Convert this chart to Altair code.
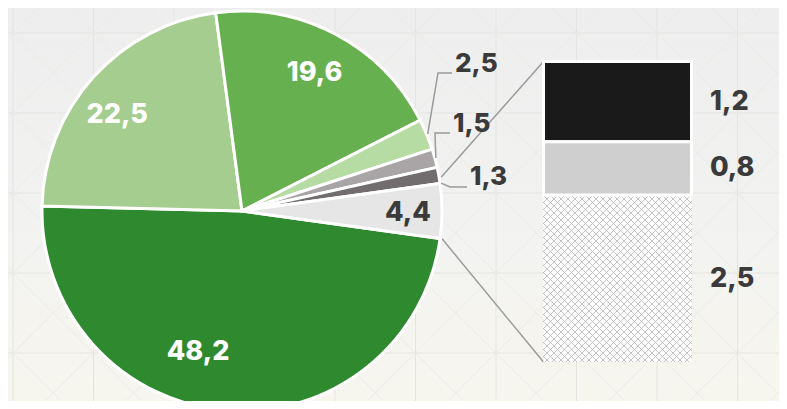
import math
import altair as alt
import pandas as pd

# ---------------- data ----------------
pie_labels = ["48,2", "22,5", "19,6", "2,5", "1,5", "1,3", "4,4"]
pie_values = [48.2, 22.5, 19.6, 2.5, 1.5, 1.3, 4.4]
pie_colors = ["#2f8a2f", "#a5cd8f", "#67b04f", "#b6dca3", "#a9a5a6", "#716c6d", "#e6e6e6"]

bar_labels = ["1,2", "0,8", "2,5"]
bar_values = [1.2, 0.8, 2.5]
bar_colors = ["#1a1a1a", "#d0cfcf", "#ffffff"]

# ---------------- layout ----------------
W, H = 771, 393
CX, CY, R = 234, 203, 200
FONT = "Inter"
WEIGHT = 800
DARK = "#3a3a3a"
LINE = "#9b9b9b"

total = sum(pie_values)
# the broken-out slice (last) is centred at 3 o'clock
start = math.pi / 2 + math.pi * pie_values[-1] / total
theta_scale = alt.Scale(domain=[0, total], range=[start, start + 2 * math.pi])

pie_df = pd.DataFrame({"label": pie_labels, "value": pie_values,
                       "color": pie_colors, "order": list(range(len(pie_values)))})

pie_base = alt.Chart(pie_df).transform_stack(
    stack="value", groupby=[], as_=["v0", "v1"],
    sort=[alt.SortField("order", order="ascending")])

arcs = pie_base.mark_arc(radius=R, stroke="white", strokeWidth=3).encode(
    theta=alt.Theta("v0:Q", scale=theta_scale),
    theta2=alt.Theta2("v1"),
    fill=alt.Fill("color:N", scale=None),
    x=alt.value(CX), y=alt.value(CY))

inner_layout = {
    "48,2": dict(radius=146, dx=-32, dy=-5, color="white"),
    "22,5": dict(radius=157, dx=-8, dy=9, color="white"),
    "19,6": dict(radius=156, dx=0, dy=0, color="white"),
    "4,4": dict(radius=167, dx=-1, dy=2, color=DARK),
}
inner_texts = []
for lab, st in inner_layout.items():
    inner_texts.append(
        pie_base.transform_calculate(mid="(datum.v0 + datum.v1) / 2")
        .transform_filter(alt.datum.label == lab)
        .mark_text(radius=st["radius"], dx=st["dx"], dy=st["dy"], color=st["color"],
                   font=FONT, fontSize=27, fontWeight=WEIGHT, align="center", baseline="middle")
        .encode(theta=alt.Theta("mid:Q", scale=theta_scale), text="label:N",
                x=alt.value(CX), y=alt.value(CY)))

# mid angles of slices (for leader lines)
mids, edges = {}, {}
cum = 0.0
for lab, v in zip(pie_labels, pie_values):
    mids[lab] = start + 2 * math.pi * (cum + v / 2) / total
    edges[lab] = (start + 2 * math.pi * cum / total, start + 2 * math.pi * (cum + v) / total)
    cum += v

def polar(a, r):
    return CX + r * math.sin(a), CY - r * math.cos(a)

# external labels: elbow point, line end, text anchor
ext_layout = {
    "2,5": dict(elbow=(430, 65), end=(444, 65), text=(447, 64)),
    "1,5": dict(elbow=(427, 125), end=(442, 125), text=(445, 124)),
    "1,3": dict(elbow=(442, 179), end=(459, 179), text=(462, 177)),
}
lead_rows, ext_rows = [], []
for lab, st in ext_layout.items():
    sx, sy = polar(mids[lab] + (0.04 if lab == "1,3" else 0.0), R + 1)
    pts = [(sx, sy), st["elbow"], st["end"]]
    for i, (px, py) in enumerate(pts):
        lead_rows.append({"label": lab, "seq": i, "x": px, "y": py})
    ext_rows.append({"label": lab, "x": st["text"][0], "y": st["text"][1]})

leaders = alt.Chart(pd.DataFrame(lead_rows)).mark_line(color=LINE, strokeWidth=1.5).encode(
    x=alt.X("x:Q", scale=None), y=alt.Y("y:Q", scale=None),
    detail="label:N", order="seq:Q")

ext_text = alt.Chart(pd.DataFrame(ext_rows)).mark_text(
    align="left", baseline="alphabetic", font=FONT, fontSize=26, fontWeight=WEIGHT, color=DARK
).encode(x=alt.X("x:Q", scale=None), y=alt.Y("y:Q", scale=None), text="label:N")

# ---------------- bar of pie ----------------
BAR_X0, BAR_X1 = 535.5, 683.5
BAR_TOP, BAR_BOTTOM = 53.5, 354.0
bar_total = sum(bar_values)
bar_scale = alt.Scale(domain=[0, bar_total], range=[BAR_BOTTOM, BAR_TOP])

bar_df = pd.DataFrame({"label": bar_labels, "value": bar_values,
                       "color": bar_colors, "idx": list(range(len(bar_values)))})
bar_base = alt.Chart(bar_df).transform_stack(
    stack="value", groupby=[], as_=["b0", "b1"],
    sort=[alt.SortField("idx", order="descending")])

bars = bar_base.mark_rect(strokeWidth=3).encode(
    x=alt.value(BAR_X0), x2=alt.value(BAR_X1),
    y=alt.Y("b0:Q", scale=bar_scale, axis=None), y2=alt.Y2("b1"),
    fill=alt.Fill("color:N", scale=None),
    stroke=alt.condition(alt.datum.idx < 2, alt.value("#ffffff"), alt.value("transparent")))

bar_text = bar_base.transform_calculate(mid="(datum.b0 + datum.b1) / 2").mark_text(
    align="left", baseline="middle", font=FONT, fontSize=27, fontWeight=WEIGHT, color=DARK
).encode(x=alt.value(702), y=alt.Y("mid:Q", scale=bar_scale, axis=None), text="label:N")

# cross-hatch of the bottom segment
hx0, hx1 = BAR_X0 - 0.5, BAR_X1 + 0.5
hy1 = BAR_BOTTOM
hy0 = BAR_BOTTOM - (BAR_BOTTOM - BAR_TOP) * bar_values[-1] / bar_total + 1.5
hatch_rows = []
step = 7.0
for s in (1, -1):
    c = -2000.0
    while c < 2000:
        xa, xb = sorted([(hy0 - c) / s, (hy1 - c) / s])
        xa, xb = max(hx0, xa), min(hx1, xb)
        if xb - xa > 0.3:
            hatch_rows.append({"x": xa, "y": s * xa + c, "x2": xb, "y2": s * xb + c})
        c += step
hatch = alt.Chart(pd.DataFrame(hatch_rows)).mark_rule(color="#b4b4b4", strokeWidth=0.8).encode(
    x=alt.X("x:Q", scale=None), y=alt.Y("y:Q", scale=None), x2="x2:Q", y2="y2:Q")

# connectors from the slice to the bar
a0, a1 = edges[pie_labels[-1]]
p0 = polar(a0 - 0.03, R + 2)
p1 = polar(a1, R + 2)
conn_df = pd.DataFrame([
    {"x": p0[0], "y": p0[1], "x2": BAR_X0, "y2": BAR_TOP},
    {"x": p1[0], "y": p1[1], "x2": BAR_X0, "y2": BAR_BOTTOM},
])
connectors = alt.Chart(conn_df).mark_rule(color=LINE, strokeWidth=1.5).encode(
    x=alt.X("x:Q", scale=None), y=alt.Y("y:Q", scale=None), x2="x2:Q", y2="y2:Q")

# ---------------- background ----------------
bg = alt.Chart(pd.DataFrame({"a": [0]})).mark_rect(
    fill=alt.LinearGradient(gradient="linear", x1=0, x2=0, y1=0, y2=1, stops=[
        alt.GradientStop(offset=0, color="#eeeeee"),
        alt.GradientStop(offset=0.55, color="#f2f2f1"),
        alt.GradientStop(offset=1, color="#f7f6ee")])
).encode(x=alt.value(0), x2=alt.value(W), y=alt.value(0), y2=alt.value(H))

gx = [5 + 80.5 * i for i in range(-1, 11)]
gy = [25 + 80 * j for j in range(-1, 6)]
grid_v = alt.Chart(pd.DataFrame({"x": gx})).mark_rule(color="#e4e4e2", strokeWidth=1).encode(
    x=alt.X("x:Q", scale=None), y=alt.value(0), y2=alt.value(H))
grid_h = alt.Chart(pd.DataFrame({"y": gy})).mark_rule(color="#e4e4e2", strokeWidth=1).encode(
    y=alt.Y("y:Q", scale=None), x=alt.value(0), x2=alt.value(W))
diag_rows = []
for i in range(len(gx) - 1):
    for j in range(len(gy) - 1):
        diag_rows.append({"x": gx[i], "y": gy[j], "x2": gx[i + 1], "y2": gy[j + 1]})
        diag_rows.append({"x": gx[i], "y": gy[j + 1], "x2": gx[i + 1], "y2": gy[j]})
diag = alt.Chart(pd.DataFrame(diag_rows)).mark_rule(color="#e8e8e6", strokeWidth=0.8).encode(
    x=alt.X("x:Q", scale=None), y=alt.Y("y:Q", scale=None), x2="x2:Q", y2="y2:Q")

chart = alt.layer(
    bg, grid_v, grid_h, diag, connectors, arcs, *inner_texts, leaders, ext_text,
    bars, hatch, bar_text
).resolve_scale(
    x="independent", y="independent", theta="independent"
).properties(
    width=W, height=H, padding=0, autosize="none", background="#efefef"
).configure_view(stroke=None)

chart.save("out.html", embed_options={"renderer": "svg", "actions": False})
